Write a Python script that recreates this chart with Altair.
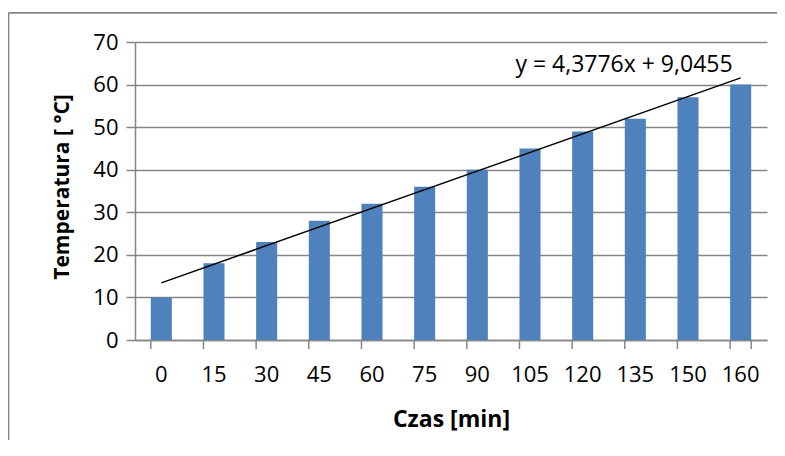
import altair as alt
import pandas as pd
import numpy as np

categories = ["0", "15", "30", "45", "60", "75", "90", "105", "120", "135", "150", "160"]
temps = [10, 18, 23, 28, 32, 36, 40, 45, 49, 52, 57, 60]
y_ticks = [0, 10, 20, 30, 40, 50, 60, 70]

FONT = "Open Sans"
GREY = "#868686"
BAR = "#4F81BD"

df = pd.DataFrame({"Czas": categories, "Temp": temps, "idx": list(range(1, len(categories) + 1))})
slope, intercept = np.polyfit(df["idx"], df["Temp"], 1)
trend = pd.DataFrame({
    "Czas": [categories[0], categories[-1]],
    "Trend": [slope * 1 + intercept, slope * len(categories) + intercept],
})
eq_label = f"y = {slope:.4f}x + {intercept:.4f}".replace(".", ",")

W, H = 632, 298

xscale = alt.Scale(domain=categories, paddingInner=0.6, paddingOuter=0.3)
yscale = alt.Scale(domain=[0, 70], nice=False)

bars = alt.Chart(df).mark_bar(color=BAR).encode(
    x=alt.X("Czas:N", scale=xscale, sort=categories,
            axis=alt.Axis(title="Czas [min]", ticks=False, labelAngle=0,
                          labelPadding=24, titleY=79, titleBaseline="middle",
                          titleFontSize=23,
                          domainColor=GREY, domainWidth=1.5)),
    y=alt.Y("Temp:Q", scale=yscale,
            axis=alt.Axis(title="Temperatura [ °C]", values=y_ticks, tickSize=9,
                          tickColor=GREY, tickWidth=1.5, gridColor=GREY, gridWidth=1.5,
                          domainColor=GREY, domainWidth=1.5, labelPadding=8,
                          titleFontSize=21,
                          titleX=-72.5, titleY=144.5, titleAngle=-90,
                          titleAlign="center", titleBaseline="middle")),
)

tick_df = pd.DataFrame({"Czas": categories})
ticks_left = alt.Chart(tick_df).mark_rule(color=GREY, strokeWidth=1.5).encode(
    x=alt.X("Czas:N", scale=xscale, bandPosition=0),
    y=alt.value(H), y2=alt.value(H + 9),
)
ticks_end = alt.Chart(pd.DataFrame({"Czas": [categories[-1]]})).mark_rule(color=GREY, strokeWidth=1.5).encode(
    x=alt.X("Czas:N", scale=xscale, bandPosition=1),
    y=alt.value(H), y2=alt.value(H + 9),
)

trend_line = alt.Chart(trend).mark_line(color="black", strokeWidth=1.5).encode(
    x=alt.X("Czas:N", scale=xscale),
    y=alt.Y("Trend:Q", scale=yscale),
)

eq_text = alt.Chart(pd.DataFrame({"t": [eq_label]})).mark_text(
    font=FONT, fontSize=23, color="black", align="center", baseline="alphabetic"
).encode(text="t:N", x=alt.value(489), y=alt.value(30))

one = pd.DataFrame({"a": [0]})
border_top = alt.Chart(one).mark_rule(color=GREY, strokeWidth=1.8).encode(
    x=alt.value(-126.5), x2=alt.value(700), y=alt.value(-29.2)
)
border_left = alt.Chart(one).mark_rule(color=GREY, strokeWidth=1.8).encode(
    x=alt.value(-126.5), y=alt.value(-29.2), y2=alt.value(600)
)

chart = alt.layer(border_top, border_left, bars, ticks_left, ticks_end, trend_line, eq_text).properties(
    width=W, height=H,
    background="white",
    autosize=alt.AutoSizeParams(type="none"),
    padding={"left": 127, "top": 34, "right": 10, "bottom": 100},
).configure_view(stroke=None).configure_axis(
    labelFont=FONT, labelFontSize=22, labelColor="black",
    titleFont=FONT, titleFontWeight="bold", titleColor="black",
)

chart.save("out.html", embed_options={"renderer": "svg", "actions": False})
